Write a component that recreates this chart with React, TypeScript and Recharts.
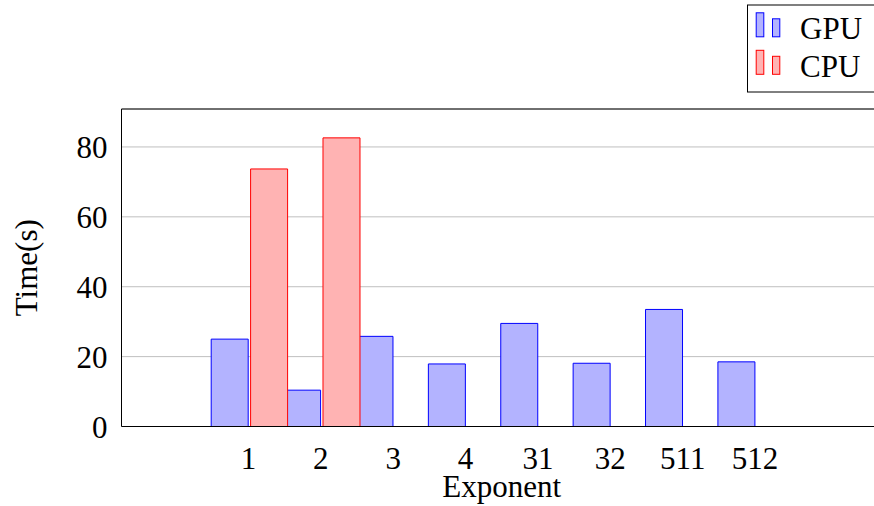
import React from 'react';
import {
  BarChart,
  Bar,
  XAxis,
  YAxis,
  CartesianGrid,
  ReferenceLine,
  Legend
} from 'recharts';

// exponents on the x axis and the run time of each backend
const exponents = ['1', '2', '3', '4', '31', '32', '511', '512'];
const gpuTimes = [25.0, 10.4, 25.8, 17.9, 29.5, 18.1, 33.5, 18.5];
const cpuTimes: (number | null)[] = [73.7, 82.6, null, null, null, null, null, null];
const yTicks = [0, 20, 40, 60, 80];

const rows = exponents.map((exp, i) => ({
  exp,
  gpu: gpuTimes[i],
  cpu: cpuTimes[i]
}));

// pgfplots style: 10% headroom above the tallest bar
const yMax = Math.max(...gpuTimes, ...(cpuTimes.filter((v) => v != null) as number[])) * 1.1;

const FONT = '"Liberation Serif", "Times New Roman", serif';
const FONT_SIZE = 31;

const series = [
  { key: 'gpu', name: 'GPU', fill: '#b3b3ff', stroke: '#0000ff' },
  { key: 'cpu', name: 'CPU', fill: '#ffb3b3', stroke: '#ff0000' }
];

const LegendBox = () => (
  <svg width={135} height={90} style={{ display: 'block' }}>
    <rect x={0.5} y={1} width={200} height={87} fill="#fff" stroke="#000" />
    {series.map((s, i) => (
      <g key={s.key} transform={`translate(0, ${i * 37.5})`}>
        <rect x={9.2} y={8.8} width={7.6} height={24} fill={s.fill} stroke={s.stroke} />
        <rect x={25.5} y={14.8} width={7.3} height={18} fill={s.fill} stroke={s.stroke} />
        <text x={53} y={35} fontSize={FONT_SIZE} fontFamily={FONT} fill="#000">
          {s.name}
        </text>
      </g>
    ))}
  </svg>
);

const App = () => {
  return (
    <div
      style={{
        position: 'fixed',
        left: 0,
        top: 0,
        width: 874,
        height: 506,
        overflow: 'hidden',
        background: '#fff',
        fontFamily: FONT
      }}
    >
      <BarChart
        width={882}
        height={506}
        data={rows}
        margin={{ top: 109, right: 0, bottom: 0, left: 0 }}
      >
        <CartesianGrid horizontal vertical={false} stroke="#bfbfbf" xAxisId="lab" />
        {/* shifted axes so the two bars of a group sit either side of the tick */}
        <XAxis xAxisId="gpu" dataKey="exp" hide height={0} padding={{ left: 71.7, right: 109.7 }} />
        <XAxis xAxisId="cpu" dataKey="exp" hide height={0} padding={{ left: 111.1, right: 70.3 }} />
        {/* visible category axis */}
        <XAxis
          xAxisId="lab"
          dataKey="exp"
          height={79.5}
          padding={{ left: 90.7, right: 90.7 }}
          axisLine={{ stroke: '#000' }}
          tickLine={false}
          tickSize={0}
          tickMargin={20}
          interval={0}
          tick={{ fill: '#000', fontSize: FONT_SIZE }}
          label={{
            value: 'Exponent',
            position: 'insideBottom',
            offset: 9,
            style: { fill: '#000', fontSize: FONT_SIZE }
          }}
        />
        <YAxis
          width={121.5}
          domain={[0, yMax]}
          ticks={yTicks}
          interval={0}
          axisLine={{ stroke: '#000' }}
          tickLine={false}
          tickSize={0}
          tickMargin={14}
          tick={{ fill: '#000', fontSize: FONT_SIZE }}
          label={{
            value: 'Time(s)',
            angle: -90,
            position: 'insideLeft',
            offset: 26,
            style: { fill: '#000', fontSize: FONT_SIZE, textAnchor: 'middle' }
          }}
        />
        <ReferenceLine xAxisId="lab" y={yMax} stroke="#000" />
        <Legend
          layout="vertical"
          align="center"
          verticalAlign="middle"
          wrapperStyle={{ top: 4, left: 747, width: 135, height: 90 }}
          content={() => <LegendBox />}
        />
        <Bar
          xAxisId="gpu"
          dataKey="gpu"
          name="GPU"
          barSize={37}
          fill={series[0].fill}
          stroke={series[0].stroke}
          strokeWidth={1}
          isAnimationActive={false}
        />
        <Bar
          xAxisId="cpu"
          dataKey="cpu"
          name="CPU"
          barSize={37}
          fill={series[1].fill}
          stroke={series[1].stroke}
          strokeWidth={1}
          isAnimationActive={false}
        />
      </BarChart>
    </div>
  );
};

export default App;
